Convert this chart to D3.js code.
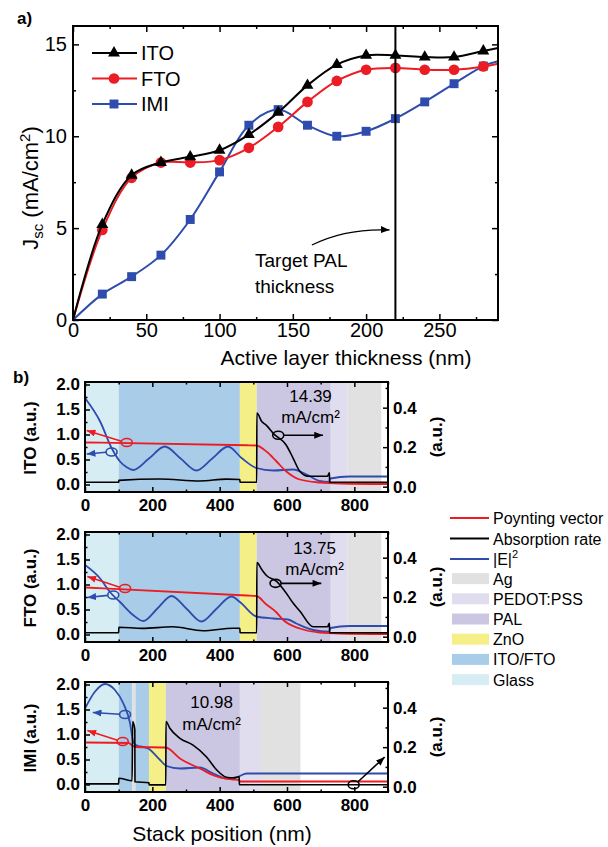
<!DOCTYPE html>
<html>
<head>
<meta charset="utf-8">
<script src="https://cdn.jsdelivr.net/npm/d3@7"></script>
<style>
  body { margin: 0; background: #fff; }
  svg { display: block; }
  text { font-family: "Liberation Sans", Arial, sans-serif; }
</style>
</head>
<body>
<div id="vis-holder"></div>
<script>
// ---------- panel a data (Jsc vs active layer thickness) ----------
const thickness = [0, 20, 40, 60, 80, 100, 120, 140, 160, 180, 200, 220, 240, 260, 280, 290];
const jscITO = [0, 5.2, 7.88, 8.57, 8.88, 9.24, 10.09, 11.3, 12.77, 13.9, 14.4, 14.4, 14.31, 14.31, 14.64, 14.8];
const jscFTO = [0, 4.9, 7.74, 8.57, 8.57, 8.7, 9.37, 10.51, 11.87, 13.01, 13.62, 13.72, 13.62, 13.62, 13.8, 13.95];
const jscIMI = [0, 1.41, 2.36, 3.53, 5.47, 8.06, 10.6, 11.45, 10.6, 10.0, 10.27, 10.96, 11.87, 12.86, 13.82, 14.08];
const targetPAL = 220;
const xTicksA = [0, 50, 100, 150, 200, 250];
const yTicksA = [0, 5, 10, 15];

// ---------- panel b data (stack position profiles) ----------
// layers: [name, start nm, end nm]
const layersITO = [["Glass", 0, 100], ["ITO/FTO", 100, 460], ["ZnO", 460, 510], ["PAL", 510, 730], ["PEDOT:PSS", 730, 780], ["Ag", 780, 880]];
const layersFTO = [["Glass", 0, 100], ["ITO/FTO", 100, 460], ["ZnO", 460, 510], ["PAL", 510, 730], ["PEDOT:PSS", 730, 780], ["Ag", 780, 880]];
const layersIMI = [["Glass", 0, 100], ["ITO/FTO", 100, 140], ["Ag", 140, 150], ["ITO/FTO", 150, 190], ["ZnO", 190, 240], ["PAL", 240, 460], ["PEDOT:PSS", 460, 520], ["Ag", 520, 640]];

// |E|^2 (left axis)
const efieldITO = [[0,1.73],[45,1.26],[79,0.73],[104,0.46],[125,0.34],[143,0.29],[190,0.52],[237,0.76],[284,0.52],[331,0.28],[378,0.52],[425,0.76],[465,0.53],[509,0.33],[559,0.28],[618,0.30],[658,0.20],[697,0.07],[725,0.05],[729,0.12],[786,0.16],[900,0.16]];
const efieldFTO = [[0,1.39],[45,1.12],[74,0.85],[104,0.65],[143,0.39],[173,0.27],[215,0.52],[257,0.77],[301,0.52],[346,0.26],[390,0.51],[435,0.76],[460,0.65],[509,0.36],[560,0.32],[603,0.30],[628,0.22],[678,0.09],[725,0.055],[729,0.13],[786,0.17],[900,0.17]];
const efieldIMI = [[0,1.52],[30,1.86],[59,2.01],[89,1.89],[114,1.62],[134,1.22],[143,0.86],[151,0.79],[188,0.72],[223,0.49],[242,0.37],[282,0.32],[341,0.34],[381,0.22],[420,0.12],[440,0.12],[480,0.22],[519,0.22],[900,0.22]];

// Poynting vector (left axis)
const poyntITO = [[0,0.84],[480,0.785],[509,0.78],[539,0.66],[569,0.46],[598,0.26],[638,0.10],[697,0.04],[760,0.02],[900,0.01]];
const poyntFTO = [[0,0.94],[480,0.78],[509,0.77],[539,0.60],[569,0.44],[589,0.29],[638,0.12],[697,0.04],[760,0.02],[900,0.01]];
const poyntIMI = [[0,0.84],[130,0.83],[140,0.78],[150,0.75],[240,0.74],[282,0.52],[341,0.32],[391,0.16],[440,0.10],[458,0.09],[460,0.06],[900,0.06]];

// absorption rate (right axis)
const absorbITO = [[0,0.022],[100,0.022],[100.5,0.032],[222,0.039],[341,0.029],[420,0.038],[460,0.036],[460.5,0.022],[510,0.022],[510.5,0.373],[525,0.33],[539,0.31],[559,0.27],[598,0.21],[618,0.145],[638,0.078],[663,0.053],[720,0.053],[726,0.07],[726.5,0.022],[900,0.022]];
const absorbFTO = [[0,0.02],[100,0.02],[100.5,0.048],[170,0.042],[260,0.05],[350,0.03],[440,0.043],[460,0.043],[460.5,0.02],[510,0.02],[510.5,0.375],[525,0.34],[539,0.31],[569,0.28],[598,0.22],[618,0.17],[638,0.13],[678,0.05],[720,0.05],[726,0.068],[726.5,0.02],[900,0.02]];
const absorbIMI = [[0,0.014],[100,0.014],[100.5,0.043],[140,0.03],[141.5,0.33],[148,0.29],[148.5,0.025],[190,0.02],[190.5,0.009],[240,0.009],[240.5,0.33],[252,0.296],[282,0.245],[321,0.21],[361,0.15],[391,0.085],[420,0.048],[440,0.045],[458,0.05],[458.5,0.01],[900,0.01]];

const jscLabels = ["14.39", "13.75", "10.98"];
const stackNames = ["ITO", "FTO", "IMI"];
const legendLines = ["Poynting vector", "Absorption rate", "|E|2"];
const legendLayers = ["Ag", "PEDOT:PSS", "PAL", "ZnO", "ITO/FTO", "Glass"];

// ---------- styles ----------
const RED = "#ec1c24", BLUE = "#2e4cad", BLACK = "#000";
const layerColor = {
  "Glass": "#d7edf4", "ITO/FTO": "#a9cce8", "ZnO": "#f5ef88",
  "PAL": "#cbc7e2", "PEDOT:PSS": "#e0ddef", "Ag": "#e1e1e1"
};

const W = 608, H = 847;
const svg = d3.select("#vis-holder").append("svg")
  .attr("width", W).attr("height", H);

const defs = svg.append("defs");
[["red", RED], ["blue", BLUE], ["black", BLACK]].forEach(([n, c]) => {
  defs.append("marker").attr("id", "ah-" + n)
    .attr("viewBox", "0 0 10 8").attr("refX", 10).attr("refY", 4)
    .attr("markerUnits", "userSpaceOnUse")
    .attr("markerWidth", 9).attr("markerHeight", 7).attr("orient", "auto")
    .append("path").attr("d", "M0,0 L10,4 L0,8 Z").attr("fill", c);
});

// axis helper: inward ticks, major + minor
function addAxis(parent, make, scale, tx, ty, major, minor, fmt, pad, fs, weight, len) {
  const g = parent.append("g").attr("transform", `translate(${tx},${ty})`);
  g.call(make(scale).tickValues(major).tickSizeInner(-len).tickSizeOuter(0)
    .tickPadding(pad).tickFormat(fmt));
  g.select(".domain").remove();
  g.selectAll("text").attr("font-size", fs).attr("font-weight", weight)
    .attr("font-family", '"Liberation Sans", Arial, sans-serif').attr("fill", "#000");
  g.selectAll("line").attr("stroke-width", 1.5);
  const m = parent.append("g").attr("transform", `translate(${tx},${ty})`);
  m.call(make(scale).tickValues(minor).tickSizeInner(-len / 2).tickSizeOuter(0).tickFormat(""));
  m.select(".domain").remove();
  m.selectAll("line").attr("stroke-width", 1.5);
  return g;
}

// ================= panel a =================
const pa = { left: 73, right: 498, top: 26, bottom: 320 };
const xa = d3.scaleLinear().domain([0, 290]).range([pa.left, pa.right]);
const ya = d3.scaleLinear().domain([0, 16]).range([pa.bottom, pa.top]);

const ga = svg.append("g");
const fmtInt = d3.format("d");
const xMinorA = d3.range(25, 290, 50);
const yMinorA = [2.5, 7.5, 12.5];
addAxis(ga, d3.axisBottom, xa, 0, pa.bottom, xTicksA, xMinorA, fmtInt, 3, 20, "normal", 6);
addAxis(ga, d3.axisTop, xa, 0, pa.top, xTicksA, xMinorA, "", 3, 20, "normal", 6);
addAxis(ga, d3.axisLeft, ya, pa.left, 0, yTicksA, yMinorA, fmtInt, 6, 20, "normal", 6);
addAxis(ga, d3.axisRight, ya, pa.right, 0, yTicksA, yMinorA, "", 6, 20, "normal", 6);

const seriesA = [
  { name: "ITO", vals: jscITO, color: BLACK, shape: d3.symbolTriangle, size: 62 },
  { name: "FTO", vals: jscFTO, color: RED, shape: d3.symbolCircle, size: 90 },
  { name: "IMI", vals: jscIMI, color: BLUE, shape: d3.symbolSquare, size: 80 }
];

const lineA = d3.line().x(d => xa(d[0])).y(d => ya(d[1])).curve(d3.curveCatmullRom.alpha(0.5));
// draw IMI first, then FTO, then ITO on top
[seriesA[2], seriesA[1], seriesA[0]].forEach(s => {
  const pts = thickness.map((t, i) => [t, s.vals[i]]);
  ga.append("path").datum(pts).attr("d", lineA)
    .attr("fill", "none").attr("stroke", s.color).attr("stroke-width", 2);
  ga.selectAll(null).data(pts.filter(p => p[0] > 0 && p[0] <= 280)).enter()
    .append("path")
    .attr("d", d3.symbol(s.shape, s.size))
    .attr("transform", d => `translate(${xa(d[0])},${ya(d[1])})`)
    .attr("fill", s.color);
});

// target line
ga.append("line")
  .attr("x1", xa(targetPAL)).attr("x2", xa(targetPAL))
  .attr("y1", pa.top).attr("y2", pa.bottom)
  .attr("stroke", "#000").attr("stroke-width", 2);

// frame
ga.append("rect").attr("x", pa.left).attr("y", pa.top)
  .attr("width", pa.right - pa.left).attr("height", pa.bottom - pa.top)
  .attr("fill", "none").attr("stroke", "#000").attr("stroke-width", 2);

// annotation
ga.append("path")
  .attr("d", `M${xa(163)},${ya(4.08)} Q${xa(186)},${ya(5.0)} ${xa(216)},${ya(4.9)}`)
  .attr("fill", "none").attr("stroke", "#000").attr("stroke-width", 1.3)
  .attr("marker-end", "url(#ah-black)");
ga.append("text").attr("x", 255).attr("y", 267).attr("font-size", 19).text("Target PAL");
ga.append("text").attr("x", 255).attr("y", 293).attr("font-size", 19).text("thickness");

// legend a
seriesA.forEach((s, i) => {
  const cy = 53 + i * 25.5;
  ga.append("line").attr("x1", 92).attr("x2", 137).attr("y1", cy).attr("y2", cy)
    .attr("stroke", s.color).attr("stroke-width", 2);
  ga.append("path").attr("d", d3.symbol(s.shape, s.size))
    .attr("transform", `translate(114,${cy})`).attr("fill", s.color);
  ga.append("text").attr("x", 141).attr("y", cy + 7).attr("font-size", 20).text(s.name);
});

// axis titles a
ga.append("text").attr("x", 346).attr("y", 365)
  .attr("text-anchor", "middle").attr("font-size", 21).text("Active layer thickness (nm)");
const yt = ga.append("text").attr("transform", "translate(38,188) rotate(-90)")
  .attr("text-anchor", "middle").attr("font-size", 22);
yt.append("tspan").text("J");
yt.append("tspan").attr("font-size", 15).attr("dy", 5).text("sc");
yt.append("tspan").attr("dy", -5).text(" (mA/cm");
yt.append("tspan").attr("font-size", 15).attr("dy", -8).text("2");
yt.append("tspan").attr("dy", 8).text(")");

svg.append("text").attr("x", 17).attr("y", 24).attr("font-size", 17)
  .attr("font-weight", "bold").text("a)");

// ================= panel b =================
const pb = { left: 85, right: 388, h: 110 };
const tops = [382, 532, 682];
const xb = d3.scaleLinear().domain([0, 900]).range([pb.left, pb.right]);
const fmt1 = d3.format(".1f");

const subplots = [
  { layers: layersITO, e: efieldITO, s: poyntITO, a: absorbITO,
    redArrow: [[124, 0.84], [5, 1.08]], blueArrow: [[79, 0.65], [5, 0.61]], blackArrow: [[574, 0.26], [707, 0.26]],
    label: [670, 20, 41] },
  { layers: layersFTO, e: efieldFTO, s: poyntFTO, a: absorbFTO,
    redArrow: [[119, 0.92], [7, 1.16]], blueArrow: [[84, 0.79], [7, 0.74]], blackArrow: [[566, 0.27], [702, 0.27]],
    label: [682, 22, 43] },
  { layers: layersIMI, e: efieldIMI, s: poyntIMI, a: absorbIMI,
    redArrow: [[112, 0.86], [7, 1.08]], blueArrow: [[119, 1.40], [23, 1.44]], blackArrow: [[798, 0.01], [890, 0.15]],
    label: [376, 26, 48] }
];

subplots.forEach((sp, i) => {
  const top = tops[i], bot = top + pb.h;
  const yl = d3.scaleLinear().domain([-0.15, 2.05]).range([bot, top]);
  const yr = d3.scaleLinear().domain([-0.027, 0.53]).range([bot, top]);
  const g = svg.append("g");

  const clipId = "clip" + i;
  defs.append("clipPath").attr("id", clipId).append("rect")
    .attr("x", pb.left).attr("y", top).attr("width", pb.right - pb.left).attr("height", pb.h);
  const inner = g.append("g").attr("clip-path", `url(#${clipId})`);

  inner.selectAll("rect").data(sp.layers).enter().append("rect")
    .attr("x", d => xb(d[1])).attr("width", d => xb(d[2]) - xb(d[1]))
    .attr("y", top).attr("height", pb.h)
    .attr("fill", d => layerColor[d[0]]);

  const lineL = d3.line().x(d => xb(d[0])).y(d => yl(d[1])).curve(d3.curveMonotoneX);
  const lineR = d3.line().x(d => xb(d[0])).y(d => yr(d[1])).curve(d3.curveMonotoneX);
  inner.append("path").datum(sp.e).attr("d", lineL)
    .attr("fill", "none").attr("stroke", BLUE).attr("stroke-width", 1.8);
  inner.append("path").datum(sp.s).attr("d", lineL)
    .attr("fill", "none").attr("stroke", RED).attr("stroke-width", 1.8);
  inner.append("path").datum(sp.a).attr("d", lineR)
    .attr("fill", "none").attr("stroke", BLACK).attr("stroke-width", 1.6);

  // axis pointer arrows with ellipses
  const arrow = (pts, sc, color, name) => {
    const [c, t] = pts;
    const cx = xb(c[0]), cy = sc(c[1]), tx = xb(t[0]), ty = sc(t[1]);
    const ang = Math.atan2(ty - cy, tx - cx);
    g.append("ellipse").attr("cx", cx).attr("cy", cy).attr("rx", 5.5).attr("ry", 4)
      .attr("fill", "none").attr("stroke", color).attr("stroke-width", 1.6);
    g.append("line")
      .attr("x1", cx + 5.5 * Math.cos(ang)).attr("y1", cy + 4 * Math.sin(ang))
      .attr("x2", tx).attr("y2", ty)
      .attr("stroke", color).attr("stroke-width", 1.6)
      .attr("marker-end", `url(#ah-${name})`);
  };
  arrow(sp.redArrow, yl, RED, "red");
  arrow(sp.blueArrow, yl, BLUE, "blue");
  arrow(sp.blackArrow, yr, BLACK, "black");

  // Jsc text
  g.append("text").attr("x", xb(sp.label[0])).attr("y", top + sp.label[1])
    .attr("text-anchor", "middle").attr("font-size", 17).text(jscLabels[i]);
  g.append("text").attr("x", xb(sp.label[0])).attr("y", top + sp.label[2])
    .attr("text-anchor", "middle").attr("font-size", 17).text("mA/cm²");

  // axes
  const xMaj = [0, 200, 400, 600, 800], xMin = [100, 300, 500, 700, 900];
  addAxis(g, d3.axisBottom, xb, 0, bot, xMaj, xMin, fmtInt, 7, 17, "bold", 5);
  addAxis(g, d3.axisTop, xb, 0, top, xMaj, xMin, "", 3, 17, "bold", 5);
  addAxis(g, d3.axisLeft, yl, pb.left, 0, [0, 0.5, 1, 1.5, 2], [0.25, 0.75, 1.25, 1.75], fmt1, 5, 17, "bold", 5);
  addAxis(g, d3.axisRight, yr, pb.right, 0, [0, 0.2, 0.4], [0.1, 0.3, 0.5], fmt1, 5, 17, "bold", 5);

  g.append("rect").attr("x", pb.left).attr("y", top)
    .attr("width", pb.right - pb.left).attr("height", pb.h)
    .attr("fill", "none").attr("stroke", "#000").attr("stroke-width", 2);

  g.append("text").attr("transform", `translate(36,${top + 56}) rotate(-90)`)
    .attr("text-anchor", "middle").attr("font-size", 17).attr("font-weight", "bold")
    .text(stackNames[i] + " (a.u.)");
  g.append("text").attr("transform", `translate(442,${top + 55}) rotate(-90)`)
    .attr("text-anchor", "middle").attr("font-size", 17).attr("font-weight", "bold")
    .text("(a.u.)");
});

svg.append("text").attr("x", 13).attr("y", 383).attr("font-size", 17)
  .attr("font-weight", "bold").text("b)");

svg.append("text").attr("x", 222).attr("y", 841).attr("text-anchor", "middle")
  .attr("font-size", 21).text("Stack position (nm)");

// legend b
const lg = svg.append("g");
const lineColors = [RED, BLACK, BLUE];
legendLines.forEach((name, i) => {
  const cy = 518 + i * 20.5;
  lg.append("line").attr("x1", 450).attr("x2", 489).attr("y1", cy).attr("y2", cy)
    .attr("stroke", lineColors[i]).attr("stroke-width", 2);
  const t = lg.append("text").attr("x", 493).attr("y", cy + 6).attr("font-size", 16);
  if (name === "|E|2") {
    t.append("tspan").text("|E|");
    t.append("tspan").attr("font-size", 11).attr("dy", -7).text("2");
  } else {
    t.text(name);
  }
});
legendLayers.forEach((name, i) => {
  const cy = 518 + (i + 3) * 20.2;
  lg.append("rect").attr("x", 452).attr("y", cy - 5.5).attr("width", 37).attr("height", 11)
    .attr("fill", layerColor[name]);
  lg.append("text").attr("x", 493).attr("y", cy + 6).attr("font-size", 16).text(name);
});
</script>
</body>
</html>
